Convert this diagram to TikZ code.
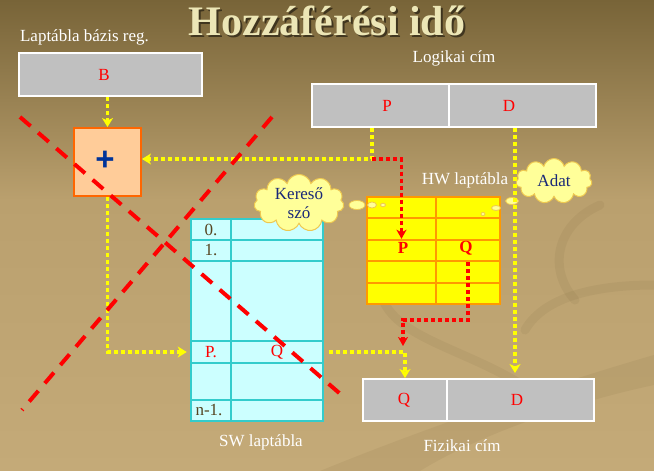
\documentclass[tikz,border=0pt]{standalone}
\usepackage{fontspec}
\setmainfont{Liberation Serif}
\newfontfamily\plusfont{Liberation Sans}
\usetikzlibrary{arrows.meta,shapes.symbols,shapes.geometric,calc}
\definecolor{bgtop}{RGB}{120,100,56}
\definecolor{bgmid}{RGB}{186,160,110}
\definecolor{bgbot}{RGB}{196,170,120}
\definecolor{swirlc}{RGB}{110,90,50}
\definecolor{boxgray}{RGB}{192,192,192}
\definecolor{plusfill}{RGB}{255,204,153}
\definecolor{plusdraw}{RGB}{255,102,0}
\definecolor{swfill}{RGB}{204,255,255}
\definecolor{swdraw}{RGB}{51,204,204}
\definecolor{hwfill}{RGB}{255,255,0}
\definecolor{hwdraw}{RGB}{255,153,0}
\definecolor{cloudfill}{RGB}{255,255,153}
\definecolor{clouddraw}{RGB}{238,200,80}
\definecolor{navy}{RGB}{0,51,153}
\definecolor{cloudtext}{RGB}{25,40,120}
\definecolor{titlecol}{RGB}{236,230,182}
\definecolor{rowtext}{RGB}{85,68,32}
\definecolor{ylw}{RGB}{255,255,0}
\begin{document}
\begin{tikzpicture}[x=1pt,y=-1pt,
  every node/.style={font=\fontsize{17}{20}\selectfont, inner sep=0pt},
  lbl/.style={text=white},
  graycell/.style={draw=white, line width=2pt, fill=boxgray, rectangle},
  swcell/.style={draw=swdraw, line width=2.5pt, fill=swfill, rectangle},
  hwcell/.style={draw=hwdraw, line width=2pt, fill=hwfill, rectangle},
  ydot/.style={draw=ylw, line width=3.5pt, dash pattern=on 4pt off 3pt},
  rdot/.style={draw=red, line width=3.5pt, dash pattern=on 4pt off 3pt},
  ytip/.style={-{Stealth[length=9pt,width=11pt,inset=2.5pt]}},
  xline/.style={draw=red, line width=4pt, dash pattern=on 14pt off 10pt},
  bubble/.style={ellipse, fill=cloudfill, draw=clouddraw, line width=0.8pt},
  thought/.style={cloud, cloud puffs=11, aspect=1.6, fill=cloudfill, draw=clouddraw, line width=1pt, text=cloudtext, align=center},
  swirl/.style={draw=swirlc, opacity=0.09, line width=9pt, line cap=round}
]
\useasboundingbox (0,0) rectangle (654,471);
% background
\shade[top color=bgtop, bottom color=bgmid] (0,0) rectangle (654,200);
\shade[top color=bgmid, bottom color=bgbot] (0,200) rectangle (654,471);
% decorative swirls
\draw[swirl] (600,205) .. controls (555,225) and (548,270) .. (575,300);
\draw[swirl] (383,300) .. controls (400,340) and (470,350) .. (530,390);
\draw[swirl] (525,330) .. controls (545,295) and (600,285) .. (654,285);
\fill[swirlc, opacity=0.09] (320,471) .. controls (420,430) and (550,385) .. (654,355) -- (654,385) .. controls (560,405) and (470,440) .. (420,471) -- cycle;

% title
\node[font=\fontsize{42}{42}\selectfont\bfseries, text=black, opacity=0.5] (titleshadow) at (329,23) {Hozzáférési idő};
\node[font=\fontsize{42}{42}\selectfont\bfseries, text=titlecol] (title) at (327,21) {Hozzáférési idő};

% labels
\node[lbl] (lblB) at (84.5,37) {Laptábla bázis reg.};
\node[lbl] (lblLog) at (454,58) {Logikai cím};
\node[lbl] (lblHW) at (465,180) {HW laptábla};
\node[lbl] (lblSW) at (261,442) {SW laptábla};
\node[lbl] (lblFiz) at (462,446) {Fizikai cím};

% base register
\node[graycell, minimum width=183, minimum height=43] (B) at (110.5,74.5) {};
\node[text=red] at (104,74.5) {B};

% logical address
\node[graycell, minimum width=137, minimum height=43] (lP) at (380.5,105.5) {};
\node[graycell, minimum width=147, minimum height=43] (lD) at (522.5,105.5) {};
\node[text=red] at (387,105.5) {P};
\node[text=red] at (509,105.5) {D};

% physical address
\node[graycell, minimum width=84, minimum height=42] (pQ) at (405,400) {};
\node[graycell, minimum width=147, minimum height=42] (pD) at (520.5,400) {};
\node[text=red] at (404,400) {Q};
\node[text=red] at (517,400) {D};

% plus box
\node[rectangle, draw=plusdraw, line width=2pt, fill=plusfill, minimum width=67, minimum height=68] (plus) at (107.5,162) {};
\node[text=navy, font=\plusfont\fontsize{33}{33}\selectfont\bfseries] at (105,161) {+};

% SW table
\foreach \n/\ya/\yb in {0/219/240, 1/240/261, 2/261/341, 3/341/363, 4/363/400, 5/400/421} {
  \node[swcell, minimum width=40, minimum height={\yb-\ya}] (swL\n) at (211,{(\ya+\yb)/2}) {};
  \node[swcell, minimum width=92, minimum height={\yb-\ya}] (swR\n) at (277,{(\ya+\yb)/2}) {};
}
\node[text=rowtext] at (swL0) {0.};
\node[text=rowtext] at (swL1) {1.};
\node[text=red] at (swL3) {P.};
\node[text=red] at (swR3) {Q};
\node[text=rowtext] at (209,410.5) {n-1.};

% HW table
\foreach \n in {0,...,4} {
  \node[hwcell, minimum width=69, minimum height=21.4] (hwL\n) at (401.5,{207.7+21.4*\n}) {};
  \node[hwcell, minimum width=64, minimum height=21.4] (hwR\n) at (468,{207.7+21.4*\n}) {};
}
\node[text=red, font=\fontsize{17}{20}\selectfont\bfseries] at (403,248) {P};
\node[text=red, font=\fontsize{17}{20}\selectfont\bfseries] at (466,248) {Q};

% clouds
\node[thought, minimum width=90, minimum height=57] (kereso) at (299,203) {Kereső\\[-1pt]szó};
\node[bubble, minimum width=16, minimum height=9] (kb1) at (357,205) {};
\node[bubble, minimum width=9, minimum height=6] (kb2) at (372,205) {};
\node[bubble, minimum width=5, minimum height=3.5] (kb3) at (383,205) {};
\node[thought, minimum width=76, minimum height=45] (adat) at (554,181) {Adat};
\node[bubble, minimum width=13, minimum height=7] (ab1) at (512,201) {};
\node[bubble, minimum width=9, minimum height=5] (ab2) at (496,208) {};
\node[bubble, minimum width=4, minimum height=3] (ab3) at (483,214) {};

% bend coordinates
\coordinate (j1) at (372,159);
\coordinate (j2) at (403,320);
\coordinate (j3) at (403,346);
\coordinate (dcol) at (515,0);

% connectors
\draw[ydot, ytip] (plus.north |- B.south) -- (plus.north);
\draw[ydot, ytip] (lP.south -| j1) -- (j1) -- (j1 -| plus.east);
\draw[rdot, -{Stealth[length=9pt,width=10pt,inset=2.5pt]}] (j1) -| (hwL2.north);
\draw[rdot, -{Stealth[length=9pt,width=10pt,inset=2.5pt]}] (hwR2.south) |- (j2) -- (j3);
\draw[ydot, ytip, shorten >=3pt] (plus.south) |- (swL3.west);
\draw[ydot, ytip] ($(swR3.east)+(5,0)$) -| (pQ.north);
\draw[ydot, ytip, shorten >=5pt] (lD.south -| dcol) -- (pD.north -| dcol);

% crossing-out lines
\draw[xline] (20,117) -- (345,398);
\draw[xline] (272,117) -- (22,410);
\end{tikzpicture}
\end{document}
